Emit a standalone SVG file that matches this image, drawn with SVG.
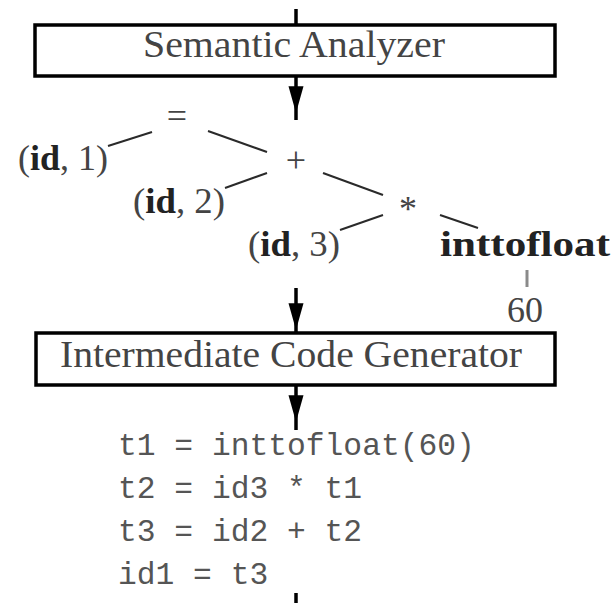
<svg xmlns="http://www.w3.org/2000/svg" width="612" height="603" viewBox="0 0 612 603">
  <style>
    .box { fill: #ffffff; stroke: #000000; stroke-width: 3.5; }
    .flow { fill: none; stroke: #000000; stroke-width: 3.5; }
    .edge { fill: none; stroke: #2a2a2a; stroke-width: 2; }
    .leaf { fill: none; stroke: #8a8a8a; stroke-width: 3; }
    .label { font-family: "Liberation Serif", "Times New Roman", serif; font-size: 38px; fill: #444444; }
    .tree { font-family: "Liberation Serif", "Times New Roman", serif; font-size: 36px; fill: #444444; }
    .bold { font-weight: bold; fill: #222222; }
    .code { font-family: "Liberation Mono", "Courier New", monospace; font-size: 31.3px; fill: #555555; }
  </style>
  <defs>
    <marker id="head" markerUnits="userSpaceOnUse" markerWidth="30" markerHeight="20" refX="0" refY="0" viewBox="-26 -8 28 16" orient="auto" overflow="visible">
      <path d="M-25,-7 L0,0 L-25,7 Z" fill="#000000"/>
    </marker>
  </defs>

  <rect width="612" height="603" fill="#ffffff"/>

  <!-- phase boxes -->
  <g id="semantic-analyzer">
    <rect class="box" x="35" y="25" width="520" height="51"/>
    <text class="label" x="143" y="57" textLength="302" lengthAdjust="spacingAndGlyphs">Semantic Analyzer</text>
  </g>
  <g id="intermediate-code-generator">
    <rect class="box" x="36" y="333" width="519" height="52"/>
    <text class="label" x="60" y="367" textLength="462" lengthAdjust="spacingAndGlyphs">Intermediate Code Generator</text>
  </g>

  <!-- syntax tree nodes -->
  <g id="node-assign">
    <text class="tree" x="177" y="128" text-anchor="middle" font-size="42">=</text>
  </g>
  <g id="node-id1">
    <text class="tree" x="18" y="170" textLength="90" lengthAdjust="spacingAndGlyphs">(<tspan class="bold">id</tspan>, 1)</text>
  </g>
  <g id="node-plus">
    <text class="tree" x="296" y="172" text-anchor="middle" font-size="48">+</text>
  </g>
  <g id="node-id2">
    <text class="tree" x="133" y="213" textLength="92" lengthAdjust="spacingAndGlyphs">(<tspan class="bold">id</tspan>, 2)</text>
  </g>
  <g id="node-times">
    <text class="tree" x="408" y="221" text-anchor="middle">*</text>
  </g>
  <g id="node-id3">
    <text class="tree" x="248" y="256" textLength="92" lengthAdjust="spacingAndGlyphs">(<tspan class="bold">id</tspan>, 3)</text>
  </g>
  <g id="node-inttofloat">
    <text class="tree bold" x="440" y="256" font-size="38" textLength="170" lengthAdjust="spacingAndGlyphs">inttofloat</text>
  </g>
  <g id="node-60">
    <text class="tree" x="525" y="322" text-anchor="middle">60</text>
  </g>

  <!-- three-address code -->
  <g id="three-address-code">
    <text class="code" x="118" y="455" xml:space="preserve">t1 = inttofloat(60)</text>
    <text class="code" x="118" y="498" xml:space="preserve">t2 = id3 * t1</text>
    <text class="code" x="118" y="541" xml:space="preserve">t3 = id2 + t2</text>
    <text class="code" x="118" y="584" xml:space="preserve">id1 = t3</text>
  </g>

  <!-- connectors -->
  <g id="connectors">
    <line class="flow" x1="296" y1="9" x2="296" y2="25"/>
    <path class="flow" d="M296,76 L296,113 L296,120" marker-mid="url(#head)"/>
    <path class="flow" d="M296,288 L296,330 L296,333" marker-mid="url(#head)"/>
    <path class="flow" d="M296,385 L296,422 L296,430" marker-mid="url(#head)"/>
    <line class="flow" x1="296" y1="593" x2="296" y2="603"/>

    <line class="edge" x1="108" y1="146" x2="152" y2="132"/>
    <line class="edge" x1="208" y1="131" x2="267" y2="152"/>
    <line class="edge" x1="225" y1="188" x2="267" y2="173"/>
    <line class="edge" x1="323" y1="173" x2="383" y2="195"/>
    <line class="edge" x1="340" y1="230" x2="383" y2="215"/>
    <line class="edge" x1="440" y1="215" x2="478" y2="228"/>
    <line class="leaf" x1="527" y1="270" x2="527" y2="287"/>
  </g>
</svg>
